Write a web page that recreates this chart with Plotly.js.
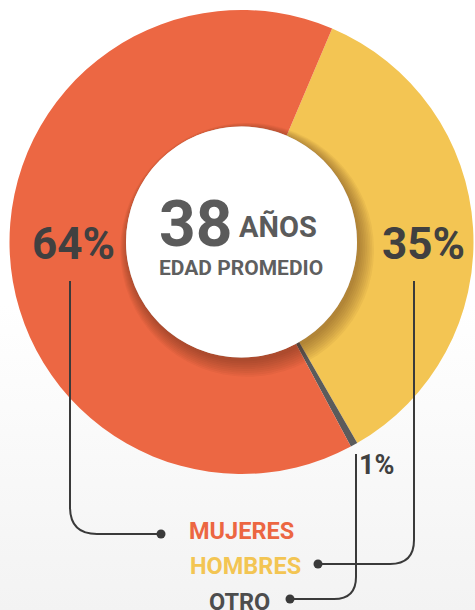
<!DOCTYPE html>
<html>
<head>
<meta charset="utf-8">
<script src="https://cdn.plot.ly/plotly-3.0.1.min.js"></script>
<style>
html,body{margin:0;padding:0;}
body{width:475px;height:610px;background:linear-gradient(to bottom,#ffffff 0%,#ffffff 50%,#f3f3f3 100%);}
#chart{width:475px;height:610px;}
</style>
</head>
<body>
<div id="chart"></div>
<script>
// ---- data ----
const categories = ["HOMBRES", "OTRO", "MUJERES"];
const shares = [35.3, 0.5, 64.2];          // slice sizes
const pctLabels = ["35%", "1%", "64%"];     // printed labels
const sliceColors = ["#F3C553", "#5B5B5B", "#EC6743"];
const legendColors = {"MUJERES": "#EC6642", "HOMBRES": "#F3C553", "OTRO": "#4D4D4D"};
const avgAge = "38";
const ageUnit = "AÑOS";
const ageCaption = "EDAD PROMEDIO";

// ---- helpers (pixel -> paper) ----
const W = 475, H = 610;
const px = x => x / W;
const py = y => 1 - y / H;
const P = (x, y) => px(x) + "," + py(y);

const cx = 241.5, cy = 242, R = 232, r = 115.5;

const trace = {
  type: "pie",
  labels: categories,
  values: shares,
  sort: false,
  direction: "clockwise",
  rotation: 23,
  hole: r / R,
  marker: {colors: sliceColors, line: {width: 0}},
  textinfo: "none",
  hoverinfo: "none",
  showlegend: false,
  domain: {x: [px(cx - R), px(cx + R)], y: [py(cy + R), py(cy - R)]}
};

const shapes = [];
// soft shadow of inner disk
for (let i = 0; i < 9; i++) {
  const rr = r + 1 + i * 1.3;
  const ox = 2 + i * 0.45, oy = 3 + i * 0.6;
  shapes.push({type: "circle", xref: "paper", yref: "paper", layer: "above",
    x0: px(cx + ox - rr), x1: px(cx + ox + rr), y0: py(cy + oy + rr), y1: py(cy + oy - rr),
    fillcolor: "rgba(70,45,10,0.05)", line: {width: 0}});
}
// white inner disk
shapes.push({type: "circle", xref: "paper", yref: "paper", layer: "above",
  x0: px(cx - r), x1: px(cx + r), y0: py(cy + r), y1: py(cy - r),
  fillcolor: "#ffffff", line: {width: 0}});

// leader lines
const lineCol = "#3A3A3A";
const leaders = [
  "M" + P(70, 281) + "L" + P(70, 507) + "Q" + P(70, 534) + " " + P(97, 534) + "L" + P(161, 534),
  "M" + P(414, 281) + "L" + P(414, 540) + "Q" + P(414, 564) + " " + P(390, 564) + "L" + P(318, 564),
  "M" + P(356, 454) + "L" + P(356, 577) + "Q" + P(356, 599) + " " + P(334, 599) + "L" + P(290, 599)
];
leaders.forEach(p => shapes.push({type: "path", xref: "paper", yref: "paper", layer: "above",
  path: p, line: {color: lineCol, width: 2}}));
[[161, 534], [318, 564], [290, 599]].forEach(([x, y]) => {
  const d = 4.5;
  shapes.push({type: "circle", xref: "paper", yref: "paper", layer: "above",
    x0: px(x - d), x1: px(x + d), y0: py(y + d), y1: py(y - d),
    fillcolor: lineCol, line: {width: 0}});
});

const F = "Roboto, 'Open Sans', sans-serif";
function ann(text, x, y, size, color, xanchor) {
  return {text: text, xref: "paper", yref: "paper", x: px(x), y: py(y),
    xanchor: xanchor || "center", yanchor: "middle", showarrow: false,
    font: {family: F, size: size, color: color, weight: "bold"}};
}
const annotations = [
  ann(avgAge, 195, 224, 64, "#5B5B5B"),
  ann(ageUnit, 277.5, 227, 29, "#5B5B5B"),
  ann(ageCaption, 241, 267.5, 21, "#5F5F5F"),
  ann(pctLabels[2], 73.5, 244, 44, "#404040"),
  ann(pctLabels[0], 423.5, 244, 44, "#404040"),
  ann(pctLabels[1], 376.5, 465, 27, "#404040"),
  ann(categories[2], 241.5, 530.5, 23.5, legendColors["MUJERES"]),
  ann(categories[0], 245, 565.5, 23.5, legendColors["HOMBRES"]),
  ann(categories[1], 239, 601.5, 23.5, legendColors["OTRO"])
];

const layout = {
  width: W, height: H,
  margin: {l: 0, r: 0, t: 0, b: 0},
  paper_bgcolor: "rgba(0,0,0,0)",
  plot_bgcolor: "rgba(0,0,0,0)",
  showlegend: false,
  shapes: shapes,
  annotations: annotations
};

Plotly.newPlot("chart", [trace], layout, {staticPlot: true, displayModeBar: false});
</script>
</body>
</html>
